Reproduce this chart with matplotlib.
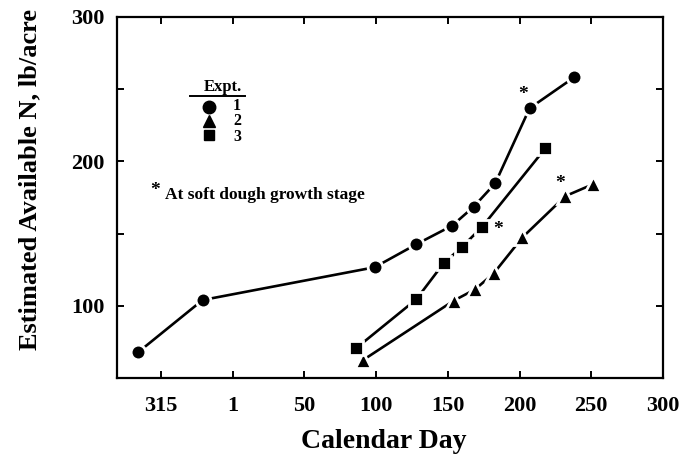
import numpy as np
import matplotlib
matplotlib.use('Agg')
import matplotlib.pyplot as plt
plt.rcParams['font.family'] = ['Liberation Serif', 'DejaVu Serif']
plt.rcParams['font.weight'] = 'bold'

# calendar days (days > 280 belong to the previous autumn)
day1 = [299, 344, 99, 128, 153, 168, 183, 207, 238]
n1 = [67.8, 104.0, 126.7, 142.6, 155.5, 168.6, 184.8, 236.8, 258.2]
day2 = [91, 154, 169, 182, 202, 232, 251]
n2 = [62.5, 103.5, 111.4, 122.5, 147.4, 176.0, 184.1]
day3 = [86, 128, 147, 160, 174, 218]
n3 = [70.6, 104.5, 129.4, 140.9, 154.8, 209.1]
# soft dough stage points: (expt, index)
soft_dough = [(1, 7), (3, 4), (2, 5)]

xtick_pos = [-50, 0, 50, 100, 150, 200, 250, 300]
xtick_lab = ['315', '1', '50', '100', '150', '200', '250', '300']
expt_lab = ['1', '2', '3']


def to_axis(days):
    d = np.array(days, dtype=float)
    return np.where(d > 280, d - 365, d)


fig = plt.figure(figsize=(6.81, 4.61), dpi=100)
ax = fig.add_axes([117/681, 83/461, 546/681, 361/461])

series = {1: (day1, n1, 'o', 10.6), 2: (day2, n2, '^', 11.0), 3: (day3, n3, 's', 9.4)}
for k, (d, n, m, ms) in series.items():
    ax.plot(to_axis(d), n, color='black', lw=1.9, marker=m, ms=ms,
            mfc='black', mec='white', mew=2.0, zorder=3)

offs = {1: (-5, 10), 3: (11, -2), 2: (-4, 9)}
for k, i in soft_dough:
    d, n = series[k][0], series[k][1]
    ax.annotate('*', (to_axis(d)[i], n[i]), xytext=offs[k], textcoords='offset points',
                ha='center', va='center', fontsize=14, fontweight='bold')

ax.set_xlim(-80.7, 300)
ax.set_ylim(50, 300)
ax.set_xticks(xtick_pos)
ax.set_xticklabels(xtick_lab)
ax.set_yticks([50, 100, 150, 200, 250, 300])
ax.set_yticklabels(['', '100', '', '200', '', '300'])
ax.tick_params(axis='both', direction='in', length=5, width=1.4, labelsize=16,
               top=True, right=True)
ax.tick_params(axis='x', pad=13)
ax.tick_params(axis='y', pad=9)
for s in ax.spines.values():
    s.set_linewidth(1.6)

fig.text(384/681, 1 - 441/461, 'Calendar Day', ha='center', va='center',
         fontsize=20, fontweight='bold')
fig.text(30/681, 1 - 180/461, 'Estimated Available N, lb/acre', ha='center',
         va='center', rotation=90, fontsize=19, fontweight='bold')

# legend drawn by hand
tr = ax.transAxes
ax.text(0.194, 0.806, 'Expt.', transform=tr, ha='center', va='center', fontsize=12)
ax.plot([0.134, 0.234], [0.78, 0.78], color='black', lw=1.4, transform=tr, clip_on=False)
for m, y, ms in [('o', 0.75, 9), ('^', 0.711, 8), ('s', 0.672, 7)]:
    ax.plot([0.1685], [y], marker=m, ms=ms, color='black', transform=tr, clip_on=False)
ax.text(0.2198, 0.711, '\n'.join(expt_lab), transform=tr, ha='center', va='center',
        fontsize=11.5, linespacing=0.97)
ax.text(0.0696, 0.52, '*', transform=tr, ha='center', va='center', fontsize=14)
ax.text(0.088, 0.507, 'At soft dough growth stage', transform=tr, ha='left',
        va='center', fontsize=12.5)

fig.savefig('out.png', dpi=100)
